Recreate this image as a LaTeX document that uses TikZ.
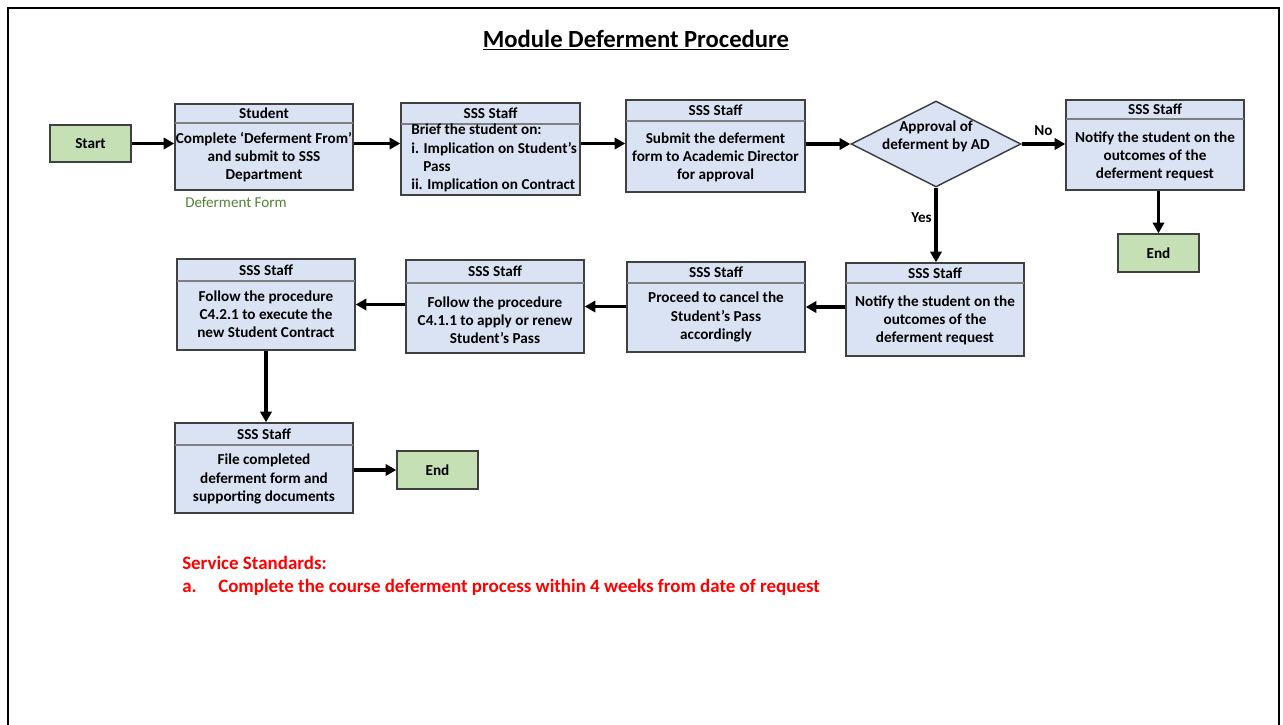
\documentclass[tikz,border=0pt]{standalone}
\usepackage{fontspec}
\setmainfont{Carlito}
\usetikzlibrary{arrows.meta,shapes.geometric,fit}

\definecolor{boxblue}{HTML}{DAE3F3}
\definecolor{boxgreen}{HTML}{C5E0B4}
\definecolor{boxline}{HTML}{404040}
\definecolor{divline}{HTML}{7F7F7F}
\definecolor{formgreen}{HTML}{548235}

\tikzset{
  pbox/.style={draw=boxline, line width=1.1pt, fill=boxblue, inner sep=0pt},
  gbox/.style={draw=boxline, line width=1.1pt, fill=boxgreen, inner sep=0pt},
  pdiv/.style={draw=divline, line width=0.9pt},
  txt/.style={font=\fontsize{11.4}{13.6}\selectfont\bfseries, align=center, inner sep=0pt},
  redtxt/.style={font=\fontsize{14.2}{16}\selectfont\bfseries, text=red, anchor=base west, inner sep=0pt},
  flow/.style={line width=2.3pt, -{Triangle[length=8pt,width=8.5pt]}},
  dia/.style={diamond, draw=boxline, line width=1.1pt, fill=boxblue, inner sep=0pt,
    minimum width=127.5pt, minimum height=64.5pt},
}

% a process box: name, x1, y1, x2, y2, divider y, header text
\newcommand{\procbox}[7]{%
  \node[pbox, fit={(#2,#3) (#4,#5)}] (#1) {};
  \draw[pdiv] (#2,#6) -- (#4,#6);
  \node[txt] (#1-h) at ({(#2+#4)/2},{(#3+#6)/2}) {#7};
}

\begin{document}
\begin{tikzpicture}[x=0.75pt, y=-0.75pt]
\useasboundingbox (0,0) rectangle (1283,725);
\fill[white] (0,0) rectangle (1283,725);

% page frame (open at the bottom)
\draw[line width=1.9pt] (8,725) -- (8,8) -- (1279,8) -- (1279,725);

% title
\node[font=\fontsize{18.5}{22}\selectfont\bfseries, inner sep=0pt] (title) at (636,40)
  {\underline{Module Deferment Procedure}};

% first row
\node[gbox, fit={(50,125) (131,162)}] (start) {};
\node[txt] (start-t) at (start) {Start};

\procbox{student}{175}{104}{353}{190}{123}{Student}
\node[txt] (student-b) at (264,157) {Complete ‘Deferment From’\\and submit to SSS\\Department};
\node[font=\fontsize{11.3}{13.6}\selectfont, text=formgreen, inner sep=0pt] (form) at (236,202) {Deferment Form};

\procbox{brief}{401}{103}{580}{195}{124}{SSS Staff}
\node[txt, align=left, anchor=west] (brief-b) at (411,158)
  {Brief the student on:\\i. Implication on Student’s\\\hspace*{9pt}Pass\\ii. Implication on Contract};

\procbox{submit}{626}{100}{805}{192}{121}{SSS Staff}
\node[txt] (submit-b) at (715.5,157) {Submit the deferment\\form to Academic Director\\for approval};

\node[dia] (ad) at (936,144) {};
\node[txt] (ad-t) at (936,136) {Approval of\\deferment by AD};

\procbox{notifyA}{1066}{100}{1244}{190}{119}{SSS Staff}
\node[txt] (notifyA-b) at (1155,156) {Notify the student on the\\outcomes of the\\deferment request};

\node[gbox, fit={(1118,234) (1199,272)}] (endA) {};
\node[txt] (endA-t) at (endA) {End};

% second row
\procbox{notifyB}{846}{263}{1024}{356}{283}{SSS Staff}
\node[txt] (notifyB-b) at (935,320) {Notify the student on the\\outcomes of the\\deferment request};

\procbox{cancel}{627}{262}{805}{352}{283}{SSS Staff}
\node[txt] (cancel-b) at (716,317) {Proceed to cancel the\\Student’s Pass\\accordingly};

\procbox{renew}{406}{260}{584}{353}{283}{SSS Staff}
\node[txt] (renew-b) at (495,320) {Follow the procedure\\C4.1.1 to apply or renew\\Student’s Pass};

\procbox{contract}{177}{259}{355}{350}{281}{SSS Staff}
\node[txt] (contract-b) at (266,314) {Follow the procedure\\C4.2.1 to execute the\\new Student Contract};

% third row
\procbox{file}{175}{423}{353}{513}{445}{SSS Staff}
\node[txt] (file-b) at (264,479) {File completed\\deferment form and\\supporting documents};

\node[gbox, fit={(397,451) (478,489)}] (endB) {};
\node[txt] (endB-t) at (endB) {End};

% connectors
\draw[flow] (start.east) -- (start.east -| student.west);
\draw[flow] (student.east |- start.east) -- (start.east -| brief.west);
\draw[flow] (brief.east |- start.east) -- (start.east -| submit.west);
\draw[flow] (ad.west -| submit.east) -- (ad.west);
\draw[flow] (ad.east) -- node[txt, above, yshift=5pt] (no) {No} (ad.east -| notifyA.west);
\draw[flow] (endA.north |- notifyA.south) -- (endA.north);
\draw[flow] (ad.south) -- node[txt, left, pos=0.4, xshift=-2pt] (yes) {Yes} (ad.south |- notifyB.north);
\draw[flow] (notifyB.west |- cancel.east) -- (cancel.east);
\draw[flow] (cancel.west |- renew.east) -- (renew.east);
\draw[flow] (renew.west |- contract.east) -- (contract.east);
\draw[flow] (contract.south) -- (contract.south |- file.north);
\draw[flow] (file.east |- endB.west) -- (endB.west);

% service standards
\node[redtxt] (std) at (182,569) {Service Standards:};
\node[redtxt] (std-a) at (182,592) {a.};
\node[redtxt] (std-a-t) at (218,592)
  {Complete the course deferment process within 4 weeks from date of request};
\end{tikzpicture}
\end{document}
